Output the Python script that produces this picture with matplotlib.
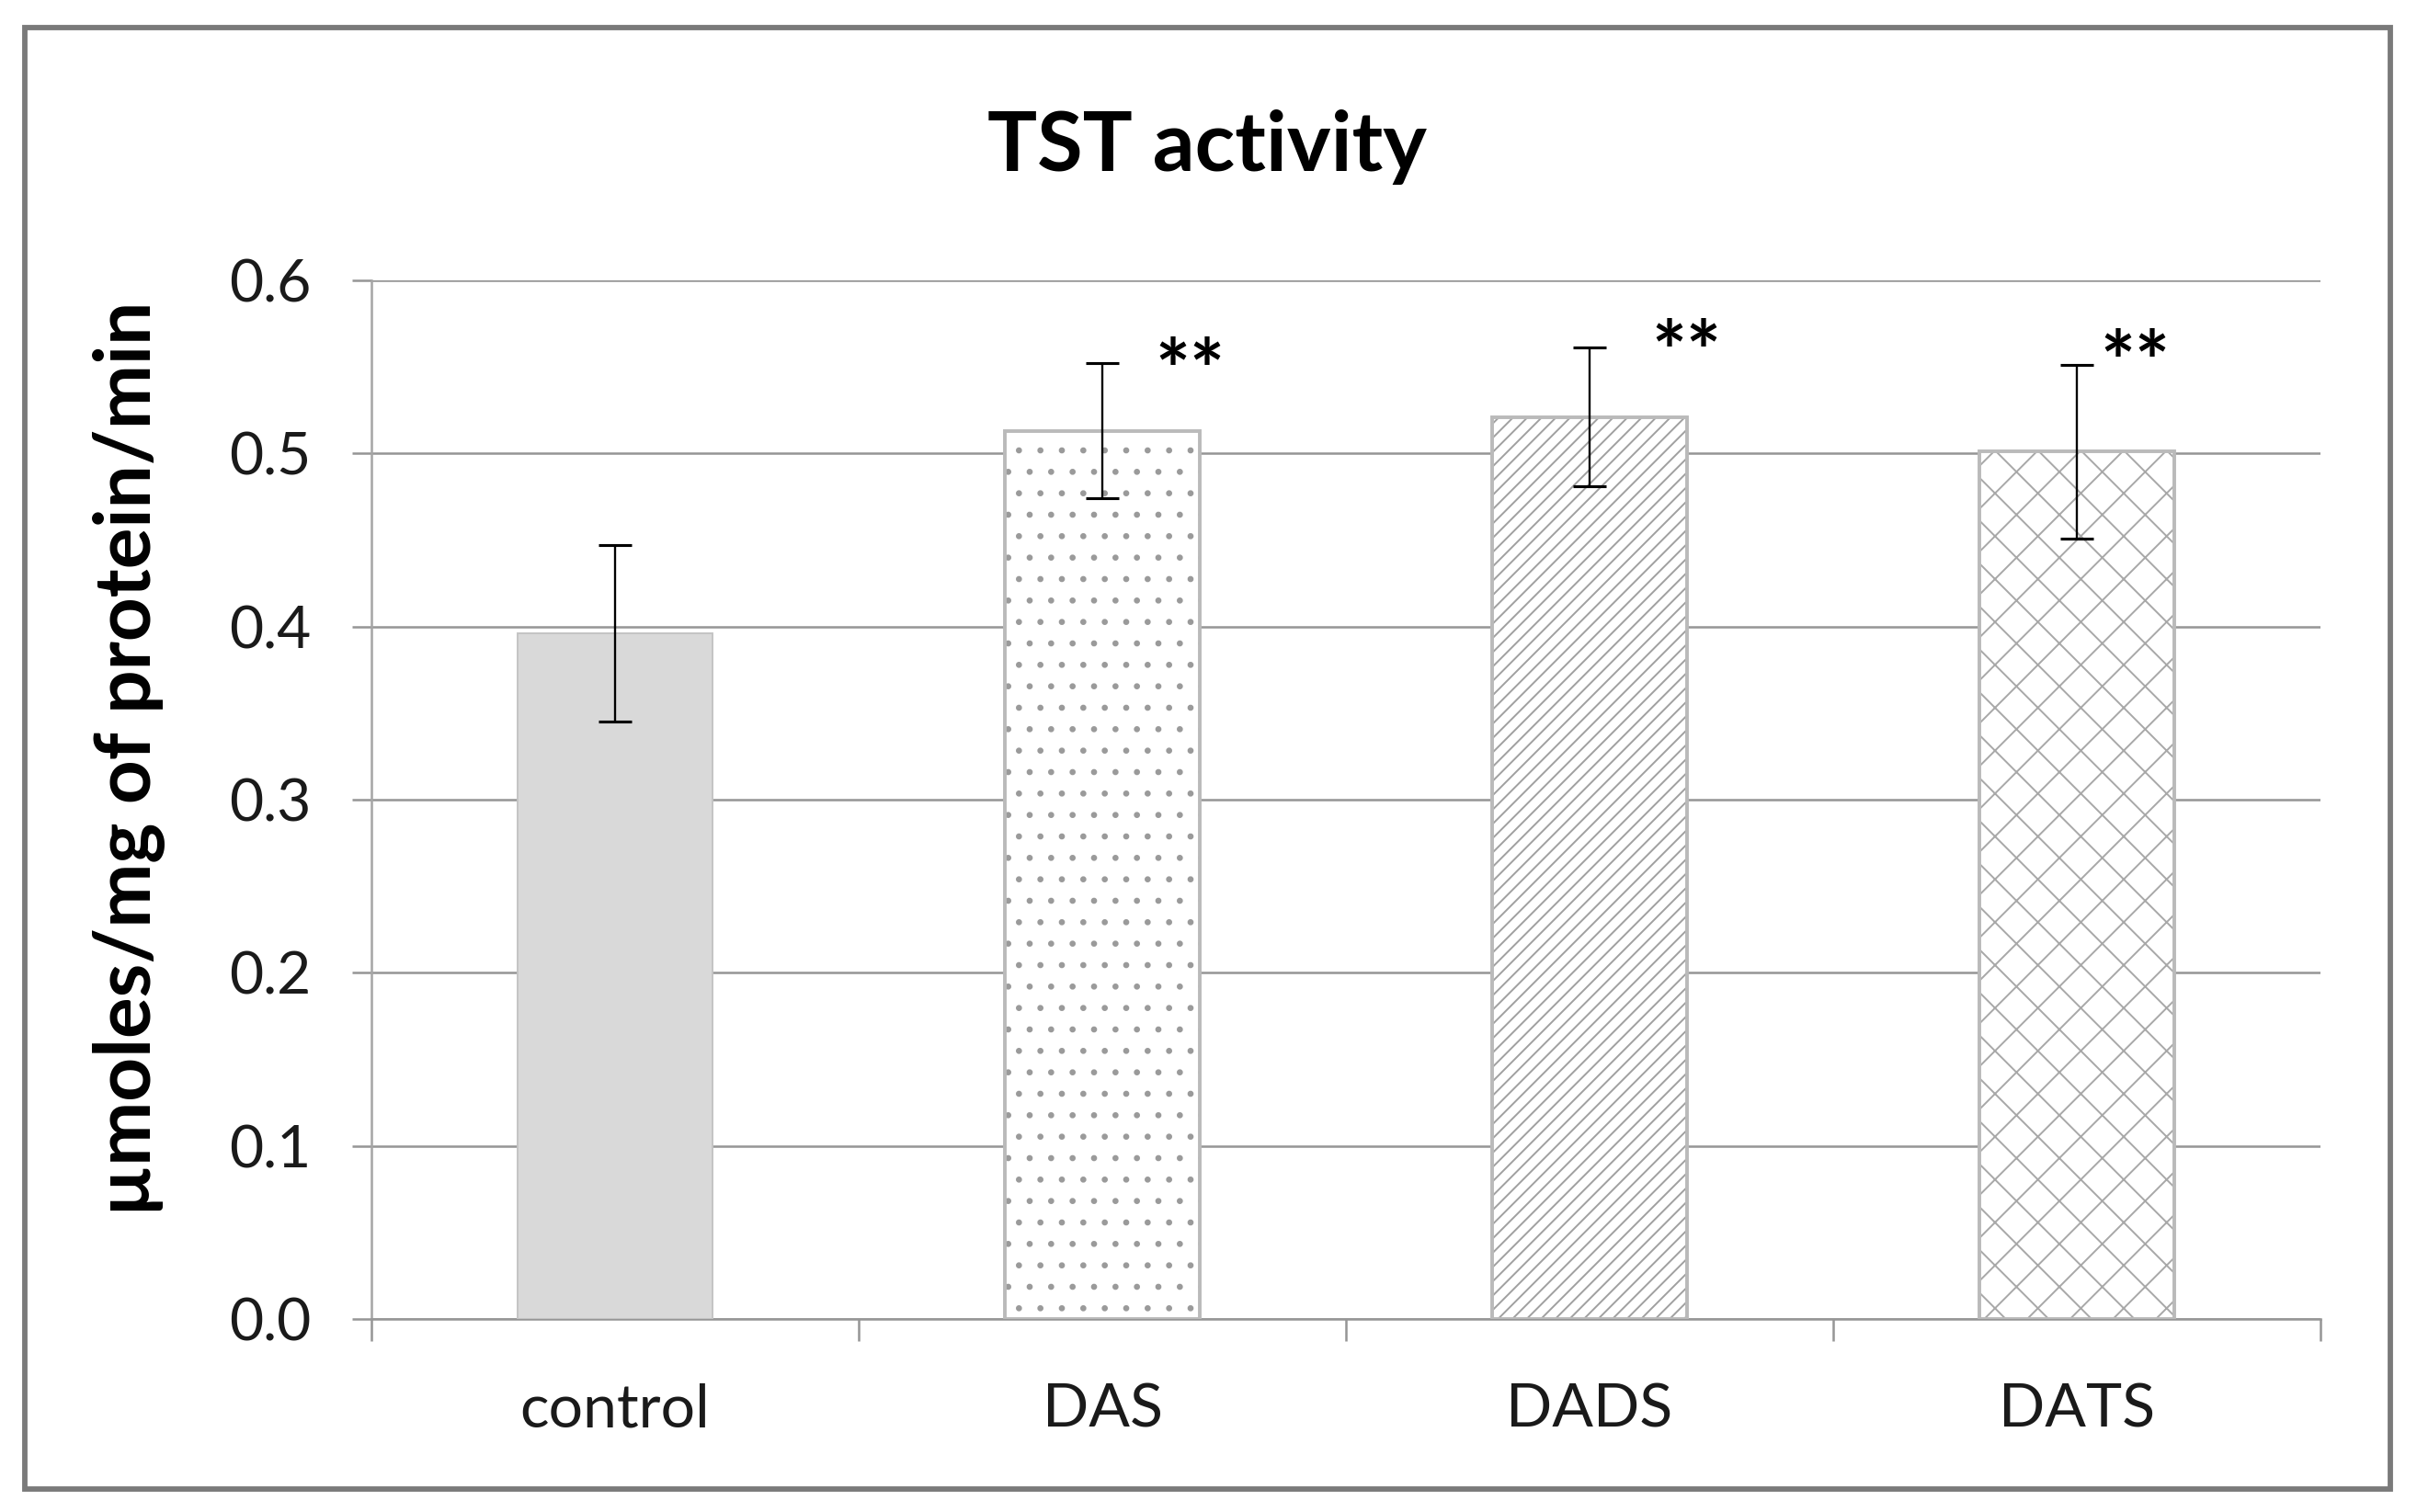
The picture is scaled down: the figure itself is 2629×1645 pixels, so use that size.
import matplotlib
matplotlib.use('Agg')
import matplotlib.pyplot as plt
from matplotlib.patches import Rectangle
import numpy as np

# ---------------- data ----------------
categories = ['control', 'DAS', 'DADS', 'DATS']
values = [0.396, 0.513, 0.521, 0.501]
errors = [0.051, 0.039, 0.040, 0.050]
significance = ['', '**', '**', '**']
y_ticks = [0.0, 0.1, 0.2, 0.3, 0.4, 0.5, 0.6]
title = 'TST activity'
y_label = 'µmoles/mg of protein/min'

# ---------------- styles / layout ----------------
fills = ['#d9d9d9', 'white', 'white', 'white']
hatches = [None, '.', '///', 'x']
hatch_colors = ['#d9d9d9', '#9a9a9a', '#a0a0a0', '#a8a8a8']
edges = ['#c4c4c4', '#bababa', '#bababa', '#bababa']
edge_lw = [1.0, 2.0, 2.0, 2.0]
star_dx_px = [0, 95.5, 105, 63.7]
star_dy_px = [0, 9.4, 12.9, 20]

DPI = 140
W, H = 2629, 1645
plt.rcParams['font.family'] = ['Lato', 'DejaVu Sans']
plt.rcParams['hatch.linewidth'] = 1.0

fig = plt.figure(figsize=(W / DPI, H / DPI), dpi=DPI)
fig.patch.set_facecolor('white')
ax = fig.add_axes([404 / W, 210 / H, 2120 / W, 1130 / H])

x = np.arange(len(categories))
for i in range(len(categories)):
    # fill + hatch pass
    ax.bar(x[i], values[i], width=0.4, color=fills[i], edgecolor=hatch_colors[i],
           linewidth=0, hatch=hatches[i], zorder=2)
    # outline pass
    ax.bar(x[i], values[i], width=0.4, fill=False, edgecolor=edges[i],
           linewidth=edge_lw[i], zorder=3)
ax.errorbar(x, values, yerr=errors, fmt='none', ecolor='black',
            elinewidth=1.2, capsize=9.5, capthick=1.6, zorder=4)

ax.set_xlim(-0.5, len(categories) - 0.5)
ax.set_ylim(0, 0.6)
ax.set_yticks(y_ticks)
ax.set_yticklabels([f'{v:.1f}' for v in y_ticks])
ax.yaxis.grid(True, color='#969696', lw=1.3)
ax.set_axisbelow(True)
ax.tick_params(axis='y', length=10.8, width=1.3, color='#969696', pad=23,
               labelsize=33, labelcolor='#1a1a1a')

ax.set_xticks(x)
ax.set_xticklabels(categories)
ax.tick_params(axis='x', which='major', length=0, pad=35.5, labelsize=34,
               labelcolor='#1a1a1a')
ax.set_xticks(np.arange(-0.5, len(categories), 1), minor=True)
ax.tick_params(axis='x', which='minor', length=12.5, width=1.3, color='#969696')

for s in ['top', 'right']:
    ax.spines[s].set_visible(False)
ax.spines['bottom'].set_color('#969696')
ax.spines['bottom'].set_linewidth(1.3)
ax.spines['left'].set_color('#a6a6a6')
ax.spines['left'].set_linewidth(1.3)

star_fs = 46
em_px = star_fs * DPI / 72
for i in range(len(categories)):
    if significance[i]:
        dy = star_dy_px[i] - 0.55 * em_px
        ax.annotate(significance[i], xy=(x[i], values[i] + errors[i]),
                    xytext=(star_dx_px[i] * 72 / DPI, dy * 72 / DPI),
                    textcoords='offset points', ha='center', va='baseline',
                    fontsize=star_fs, fontweight='bold', color='black', zorder=5)

fig.text(1313 / W, 1459 / H, title, ha='center', va='baseline',
         fontsize=46.5, fontweight='bold')
fig.text(163 / W, 819.5 / H, y_label, rotation=90, rotation_mode='anchor',
         ha='center', va='baseline', fontsize=43, fontweight='bold')

frame = Rectangle((27 / W, 25 / H), 2573 / W, 1590 / H, transform=fig.transFigure,
                  fill=False, edgecolor='#7a7a7a', linewidth=3)
fig.patches.append(frame)

fig.savefig('out.png', dpi=DPI)
